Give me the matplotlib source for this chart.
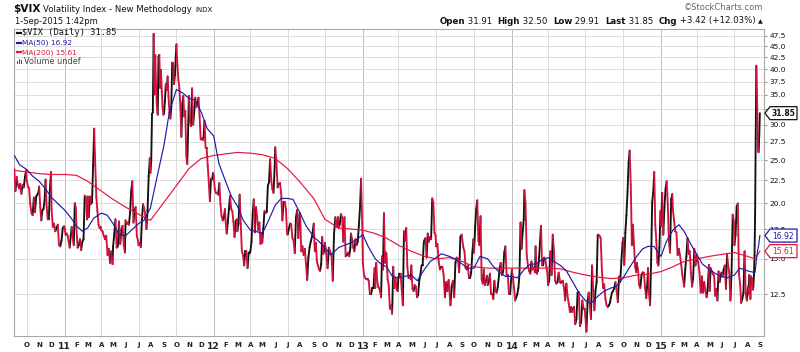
import numpy as np
import pandas as pd
import matplotlib

matplotlib.use("Agg")
import matplotlib.pyplot as plt
from matplotlib.collections import LineCollection
from matplotlib.lines import Line2D
from matplotlib.patches import Polygon, Rectangle
from matplotlib.ticker import NullLocator
from matplotlib.transforms import IdentityTransform
from pandas.tseries.holiday import (
    AbstractHolidayCalendar, Holiday, GoodFriday, USLaborDay, USMartinLutherKingJr,
    USMemorialDay, USPresidentsDay, USThanksgivingDay, nearest_workday, sunday_to_monday,
)
from pandas.tseries.offsets import CustomBusinessDay

# ---- data: VIX closes, one list per month (roughly every other session) ----
vix_2010 = [  # Sep..Dec
    [23.9, 21.3, 22.9, 22.0, 21.6, 22.1, 21.0, 22.0, 21.7, 22.9, 23.7],
    [22.5, 21.8, 21.6, 19.9, 19.0, 18.8, 20.6, 19.1, 20.7, 20.9, 21.2],
    [21.8, 19.6, 18.3, 19.3, 19.4, 20.2, 22.6, 19.6, 18.4, 18.4, 21.5, 23.5],
    [19.4, 17.7, 18.0, 17.3, 17.6, 17.9, 16.1, 16.0, 16.5, 17.6, 17.75],
]
vix_2011 = [
    [17.6, 17.0, 17.1, 16.9, 16.4, 15.9, 16.9, 17.7, 16.6, 16.1, 20.0, 19.5],
    [17.6, 15.9, 16.1, 16.6, 15.7, 16.4, 16.6, 20.8, 20.6, 18.4],
    [20.7, 18.6, 20.7, 19.9, 20.1, 24.3, 29.4, 24.4, 20.6, 19.2, 17.9, 17.6, 17.7],
    [17.4, 17.3, 16.9, 16.6, 16.9, 15.3, 15.8, 14.7, 15.6, 14.6],
    [16.0, 17.1, 18.4, 15.9, 16.0, 18.2, 16.2, 17.4, 17.8, 16.1, 15.5],
    [18.3, 17.95, 18.1, 17.9, 19.0, 21.3, 22.4, 18.1, 19.3, 19.6, 16.9, 16.5],
    [16.1, 16.3, 15.95, 18.4, 19.9, 19.5, 18.8, 17.5, 19.3, 22.98, 25.25],
    [23.4, 24.8, 31.7, 32.0, 48.0, 35.1, 43.0, 36.4, 32.9, 31.6, 42.7, 43.05, 36.3, 39.8, 35.6, 32.9, 31.6],
    [31.8, 33.9, 37.0, 35.9, 38.5, 34.6, 31.97, 30.98, 32.9, 41.35, 41.25, 37.0, 38.8, 42.96],
    [45.45, 40.8, 37.8, 36.2, 33.0, 28.2, 33.4, 34.8, 31.3, 32.2, 25.5, 24.5, 29.96],
    [34.8, 30.5, 29.8, 36.2, 30.0, 32.0, 34.5, 32.9, 33.5, 34.5, 31.3, 27.8],
    [27.8, 28.0, 27.7, 30.6, 26.6, 26.6, 24.3, 22.2, 20.2, 22.7, 22.6, 23.4],
]
vix_2012 = [
    [23.0, 21.5, 21.1, 21.05, 20.9, 22.2, 19.9, 18.7, 18.3, 18.5, 19.4],
    [18.3, 17.1, 18.1, 19.4, 20.8, 19.4, 19.2, 18.2, 16.8, 18.2, 18.4],
    [17.3, 18.0, 20.9, 17.95, 15.6, 15.3, 14.5, 15.6, 15.6, 14.3, 15.5, 15.5],
    [15.6, 16.4, 18.8, 20.4, 17.2, 19.6, 18.6, 17.4, 18.1, 16.2, 17.15],
    [16.3, 17.6, 19.2, 19.05, 19.1, 21.9, 22.3, 25.1, 22.5, 21.5, 21.1, 24.1],
    [26.7, 24.7, 21.7, 22.1, 22.2, 21.1, 18.3, 20.1, 20.1, 19.45, 17.1],
    [17.0, 17.5, 18.0, 17.95, 16.7, 16.5, 15.45, 18.6, 19.3, 16.7, 18.9],
    [19.0, 15.6, 16.0, 15.3, 15.8, 14.6, 13.45, 15.1, 15.9, 16.4, 16.8, 17.5],
    [18.0, 15.6, 16.3, 14.8, 14.5, 14.2, 14.1, 14.6, 16.8, 15.4, 15.7],
    [16.3, 15.4, 14.3, 15.9, 15.6, 15.3, 13.4, 17.1, 18.6, 17.7, 18.6],
    [17.6, 17.95, 18.9, 18.6, 16.4, 18.6, 15.2, 15.3, 15.5, 15.2, 15.9],
    [17.1, 16.6, 15.9, 15.6, 16.6, 16.1, 16.4, 17.8, 19.5, 22.7, 18.0],
]
vix_2013 = [
    [14.7, 13.8, 13.6, 13.5, 13.5, 13.4, 12.5, 12.5, 12.9, 12.9, 14.3],
    [12.9, 14.7, 13.4, 13.0, 12.9, 12.7, 12.3, 15.2, 14.2, 18.99, 14.7, 15.5],
    [15.4, 13.5, 13.1, 11.6, 11.8, 11.3, 14.4, 12.9, 13.6, 12.8, 12.7],
    [13.6, 13.9, 13.9, 12.8, 11.8, 17.3, 16.5, 17.6, 14.4, 13.6, 13.7, 13.5],
    [14.5, 12.85, 12.7, 13.1, 13.0, 12.3, 12.45, 13.4, 13.8, 14.5, 14.5, 16.3],
    [16.5, 16.7, 15.1, 17.1, 16.4, 16.8, 16.6, 20.5, 20.1, 17.2, 16.9],
    [16.0, 16.2, 14.8, 14.2, 14.4, 14.4, 13.8, 12.3, 13.3, 12.7, 13.45],
    [12.9, 11.8, 13.0, 13.4, 12.3, 14.7, 15.1, 15.0, 14.0, 16.8, 17.0],
    [16.6, 15.9, 15.6, 14.3, 14.2, 14.5, 13.6, 13.6, 14.0, 15.5, 16.6],
    [15.5, 17.7, 19.4, 20.3, 16.5, 16.1, 18.7, 13.5, 13.2, 14.2, 13.1, 13.4, 13.75],
    [13.1, 13.3, 13.9, 12.5, 12.5, 12.2, 13.4, 12.7, 12.6, 12.98, 13.7],
    [14.2, 14.7, 13.8, 14.0, 15.5, 16.0, 13.8, 13.8, 12.5, 12.5, 13.7],
]
vix_2014 = [
    [14.2, 13.55, 12.9, 12.1, 12.3, 12.5, 12.9, 13.8, 18.1, 15.8, 17.3, 18.4],
    [21.4, 19.95, 15.3, 14.5, 14.1, 13.9, 14.8, 14.2, 14.35, 14.0],
    [16.0, 13.9, 14.1, 14.8, 16.2, 17.8, 14.5, 14.5, 15.1, 15.0, 14.4, 13.9],
    [13.1, 13.4, 15.6, 13.8, 17.0, 15.6, 13.4, 13.2, 13.3, 13.97, 13.4],
    [13.25, 13.3, 13.4, 12.9, 12.1, 13.2, 12.4, 11.9, 11.4, 11.7, 11.4],
    [11.6, 11.7, 10.7, 10.99, 12.6, 12.65, 10.6, 10.85, 12.1, 11.6, 11.6],
    [11.15, 10.3, 11.98, 12.6, 11.8, 11.0, 14.5, 12.8, 11.5, 12.7, 13.3, 16.95],
    [17.0, 16.9, 16.7, 14.2, 12.9, 13.15, 12.2, 11.8, 11.7, 11.8, 12.0],
    [12.25, 12.6, 12.7, 12.9, 13.3, 12.7, 12.0, 13.7, 13.3, 14.85, 16.3],
    [16.7, 14.55, 17.2, 18.8, 21.2, 24.6, 26.25, 21.99, 16.1, 17.9, 16.1, 14.4, 14.0],
    [14.7, 14.2, 13.1, 12.9, 13.8, 13.99, 13.96, 12.9, 12.25, 13.33],
    [14.3, 12.5, 11.8, 14.9, 20.1, 21.1, 23.5, 17.9, 16.5, 14.7, 14.5, 15.9, 19.2],
]
vix_2015 = [  # Jan..Sep 1
    [17.8, 21.1, 17.0, 19.6, 21.5, 22.4, 19.9, 16.4, 15.5, 20.4, 20.97],
    [19.4, 18.3, 17.3, 17.2, 15.3, 15.8, 15.3, 14.6, 13.8, 13.3],
    [13.0, 14.2, 15.2, 16.7, 15.4, 15.6, 13.97, 13.0, 13.6, 15.8, 14.5, 15.3],
    [15.1, 14.7, 13.98, 12.6, 13.7, 12.6, 13.3, 12.7, 12.3, 13.0, 14.55],
    [12.7, 14.3, 14.05, 13.85, 13.76, 12.4, 12.85, 12.1, 14.06, 13.3, 13.8],
    [13.97, 13.7, 14.2, 14.5, 12.85, 15.4, 14.5, 13.96, 12.1, 14.0, 18.85, 18.2],
    [16.1, 17.0, 19.66, 19.97, 13.9, 13.2, 11.95, 12.2, 12.6, 15.6, 12.5, 12.1],
    [12.6, 13.0, 12.5, 13.8, 13.4, 12.2, 13.7, 13.6, 13.5, 12.8, 13.0, 13.8, 15.25,
     19.1, 28.0, 40.7, 36.0, 30.3, 26.1, 26.05, 28.4],
    [31.85],
]

# MA(50) read on the 1st and 15th of each month, Sep 2010 .. Aug 2015
ma50_values = [
    25.6, 24.4, 23.8, 23.0, 22.4, 21.6, 20.6, 20.0,
    19.3, 18.6, 17.8, 17.3, 17.6, 18.5, 19.0, 18.8, 18.0, 17.0, 16.9, 17.4,
    18.0, 18.3, 19.5, 22.5, 27.0, 32.0, 36.0, 35.4, 34.4, 34.1, 32.0, 29.4,
    28.3, 24.5, 22.4, 20.7, 19.7, 18.3, 17.4, 17.3, 17.1, 18.2, 19.8, 20.5,
    20.5, 20.4, 19.0, 17.8, 16.8, 16.4, 15.9, 15.3, 15.9, 16.1, 16.3, 16.6,
    17.0, 16.0, 15.0, 14.6, 14.4, 13.7, 13.6, 13.7, 13.8, 13.4, 14.2, 14.8,
    15.1, 15.4, 15.2, 15.0, 14.6, 14.3, 14.3, 15.2, 15.0, 14.4, 14.0, 13.7,
    13.7, 13.6, 14.2, 14.6, 14.6, 14.9, 15.1, 14.8, 14.5, 14.1, 13.3, 12.6,
    12.1, 11.9, 12.4, 12.7, 12.9, 13.0, 13.6, 14.3, 15.2, 15.8, 16.0, 16.0,
    15.2, 16.4, 17.4, 17.9, 17.3, 16.3, 15.3, 14.6, 14.2, 13.9, 13.7, 13.6,
    13.8, 14.3, 14.1, 14.0,
]
ma50_tail_dates = ["2015-08-20", "2015-08-24", "2015-08-26", "2015-08-28", "2015-09-01"]
ma50_tail_values = [14.0, 14.9, 15.6, 16.1, 16.92]

# MA(200) read on the 1st of each month, Sep 2010 .. Aug 2015
ma200_values = [
    23.7, 23.5, 23.3, 23.2,
    23.2, 23.1, 22.4, 21.3, 20.4, 19.6, 18.9, 18.3, 20.1, 21.9, 23.9, 25.2,
    25.6, 25.8, 26.0, 25.9, 25.7, 25.2, 23.9, 22.3, 20.5, 18.4, 17.6, 17.5,
    17.4, 17.1, 16.7, 16.1, 15.6, 15.2, 15.0, 15.1, 14.8, 14.4, 14.3, 14.3,
    14.3, 14.3, 14.3, 14.3, 14.25, 14.0, 13.8, 13.65, 13.55, 13.6, 13.8, 13.85,
    14.05, 14.4, 14.8, 15.0, 15.2, 15.35, 15.5, 15.2,
]
ma200_tail_dates = ["2015-08-20", "2015-09-01"]
ma200_tail_values = [15.0, 15.61]

y_ticks = [12.5, 15.0, 17.5, 20.0, 22.5, 25.0, 27.5, 30.0, 32.5, 35.0, 37.5, 40.0, 42.5, 45.0, 47.5]
hidden_tick = 32.5  # sits under the last-price tag
month_letters = ["J", "F", "M", "A", "M", "J", "J", "A", "S", "O", "N", "D"]

PRICE_UP = "#111111"
PRICE_DOWN = "#d4113c"
MA50_COLOR = "#1c1ca8"
MA200_COLOR = "#e3163c"


class NyseCalendar(AbstractHolidayCalendar):
    rules = [
        Holiday("NewYear", month=1, day=1, observance=sunday_to_monday),
        USMartinLutherKingJr, USPresidentsDay, GoodFriday, USMemorialDay,
        Holiday("July4", month=7, day=4, observance=nearest_workday),
        USLaborDay, USThanksgivingDay,
        Holiday("Christmas", month=12, day=25, observance=nearest_workday),
    ]


sessions = pd.date_range("2010-09-01", "2015-09-01", freq=CustomBusinessDay(calendar=NyseCalendar()))
session_months = sessions.to_period("M")


def session_index(dates):
    return sessions.searchsorted(pd.DatetimeIndex(dates))


# closes -> session positions (each month spread over its own sessions)
monthly = vix_2010 + vix_2011 + vix_2012 + vix_2013 + vix_2014 + vix_2015
months = pd.period_range("2010-09", "2015-09", freq="M")
xs, ys = [], []
for per, vals in zip(months, monthly):
    idx = np.flatnonzero(session_months == per)
    xs.extend(np.linspace(idx[0], idx[-1], len(vals)))
    ys.extend(vals)
xs = np.array(xs)
ys = np.array(ys)

ma50_x = np.concatenate([session_index(pd.date_range("2010-09-01", "2015-08-15", freq="SMS")),
                         session_index(ma50_tail_dates)])
ma50_y = np.array(ma50_values + ma50_tail_values)
ma200_x = np.concatenate([session_index(pd.date_range("2010-09-01", "2015-08-01", freq="MS")),
                          session_index(ma200_tail_dates)])
ma200_y = np.array(ma200_values + ma200_tail_values)

# ---- figure ----
W, H, DPI = 800, 352, 100
plt.rcParams["font.family"] = ["DejaVu Sans"]
fig = plt.figure(figsize=(W / DPI, H / DPI), dpi=DPI)
ax = fig.add_axes([14 / W, 1 - 336 / H, (764 - 14) / W, (336 - 29) / H])


def fx(x):
    return x / W


def fy(y):
    return 1 - y / H


ax.set_yscale("log")
ax.set_xlim(-0.5, len(sessions) - 1 + 7)
ax.set_ylim(10.07, 49.2)

# grid
ax.set_yticks(y_ticks)
ax.set_yticklabels(["" if v == hidden_tick else f"{v:.1f}" for v in y_ticks])
ax.yaxis.set_minor_locator(NullLocator())
ax.yaxis.tick_right()
ax.tick_params(axis="y", which="major", length=2, pad=2, labelsize=5.4, color="#999999", labelcolor="#111111")
ax.grid(axis="y", color="#dcdcdc", lw=0.7)

first_sessions = pd.Series(np.arange(len(sessions)), index=sessions).groupby(session_months).first()
for per, pos in first_sessions.items():
    if per.month in (1, 4, 7, 10):
        ax.axvline(pos, color="#bcbcbc" if per.month == 1 else "#dadada", lw=0.7, zorder=0)

tick_pos, tick_lab = [], []
for per, pos in first_sessions.items():
    if per < pd.Period("2010-10", "M"):
        continue
    tick_pos.append(pos)
    tick_lab.append(f"{per.year % 100}" if per.month == 1 else month_letters[per.month - 1])
ax.set_xticks(tick_pos)
ax.set_xticklabels(tick_lab)
ax.xaxis.set_minor_locator(NullLocator())
ax.tick_params(axis="x", length=0, pad=4.5, labelsize=5.0, labelcolor="#222222")
for lab, text in zip(ax.get_xticklabels(), tick_lab):
    lab.set_fontweight("bold")
    if text.isdigit():
        lab.set_fontsize(6.6)

for s in ax.spines.values():
    s.set_color("#a8a8a8")
    s.set_linewidth(0.8)

# price line, black on up moves, red on down moves (red drawn on top)
pts = np.column_stack([xs, ys])
segs = np.stack([pts[:-1], pts[1:]], axis=1)
up = ys[1:] >= ys[:-1]
ax.add_collection(LineCollection(segs[up], colors=PRICE_UP, linewidths=1.35,
                                 capstyle="round", joinstyle="round", zorder=3))
ax.add_collection(LineCollection(segs[~up], colors=PRICE_DOWN, linewidths=1.35,
                                 capstyle="round", joinstyle="round", zorder=3.1))

ax.plot(ma200_x, ma200_y, color=MA200_COLOR, lw=0.85, zorder=4)
ax.plot(ma50_x, ma50_y, color=MA50_COLOR, lw=0.85, zorder=4)

# ---- legend inside plot ----
legend_rows = [
    ("$VIX (Daily) 31.85", "#111111", 32.7, "DejaVu Sans Mono", 6.2),
    ("MA(50) 16.92", MA50_COLOR, 42.7, "DejaVu Sans", 5.3),
    ("MA(200) 15.61", MA200_COLOR, 52.3, "DejaVu Sans", 5.3),
]
for text, color, y, family, size in legend_rows:
    fig.add_artist(Line2D([fx(16.5), fx(21)], [fy(y), fy(y)], color=color, lw=1.6))
    fig.text(fx(22.5), fy(y), text, color=color, family=family, fontsize=size, va="center")
for i, hgt in enumerate([3.5, 5.5, 4.5]):
    fig.add_artist(Rectangle((fx(16.5 + i * 2.2), fy(64.3)), 1.4 / W, hgt / H, color="#555555", lw=0))
fig.text(fx(24), fy(61.7), "Volume undef", color="#444444", fontsize=5.9, va="center")

# ---- header ----
fig.text(fx(13), fy(12), "$VIX", fontsize=7.6, fontweight="bold", color="#111111", va="baseline")
fig.text(fx(43), fy(12), "Volatility Index - New Methodology", fontsize=6.1, color="#111111", va="baseline")
fig.text(fx(195), fy(12), "INDX", fontsize=5.0, color="#111111", va="baseline")
fig.text(fx(15), fy(23.5), "1-Sep-2015 1:42pm", fontsize=6.0, color="#111111", va="baseline")
fig.text(fx(763), fy(10), "\u00a9StockCharts.com", fontsize=6.0, color="#666666", ha="right", va="baseline")

renderer = fig.canvas.get_renderer()
quote_parts = [("Open", "bold"), (" 31.91  ", "normal"), ("High", "bold"), (" 32.50  ", "normal"),
               ("Low", "bold"), (" 29.91  ", "normal"), ("Last", "bold"), (" 31.85  ", "normal"),
               ("Chg", "bold"), (" +3.42 (+12.03%) ", "normal"), ("\u25b2", "normal")]
quote_texts = []
for text, weight in quote_parts:
    t = fig.text(0, fy(23.5), text, fontsize=6.2 if text != "\u25b2" else 4.5,
                 fontweight=weight, color="#111111", va="baseline")
    quote_texts.append(t)
widths = [t.get_window_extent(renderer).width for t in quote_texts]
x_cur = 763 - sum(widths)
for t, w in zip(quote_texts, widths):
    t.set_x(x_cur / W)
    x_cur += w


# ---- value tags on the right axis ----
def value_tag(value, text, color, weight):
    x0 = ax.bbox.x1
    y0 = ax.transData.transform((0, value))[1]
    h, tip, w = 6.5, 5.0, 33.0
    poly = [(x0 + 1, y0), (x0 + 1 + tip, y0 + h), (x0 + w, y0 + h), (x0 + w, y0 - h), (x0 + 1 + tip, y0 - h)]
    fig.add_artist(Polygon(poly, closed=True, transform=IdentityTransform(), facecolor="white",
                           edgecolor=color, lw=0.9, zorder=5))
    fig.text(x0 + 1 + tip + (w - 1 - tip) / 2, y0 - 0.8, text, transform=IdentityTransform(), ha="center",
             va="center", fontsize=5.5, color=color, fontweight=weight, zorder=6)


value_tag(31.85, "31.85", "#111111", "bold")
value_tag(16.92, "16.92", MA50_COLOR, "normal")
value_tag(15.61, "15.61", MA200_COLOR, "normal")

fig.savefig("out.png", dpi=DPI, facecolor="white")
